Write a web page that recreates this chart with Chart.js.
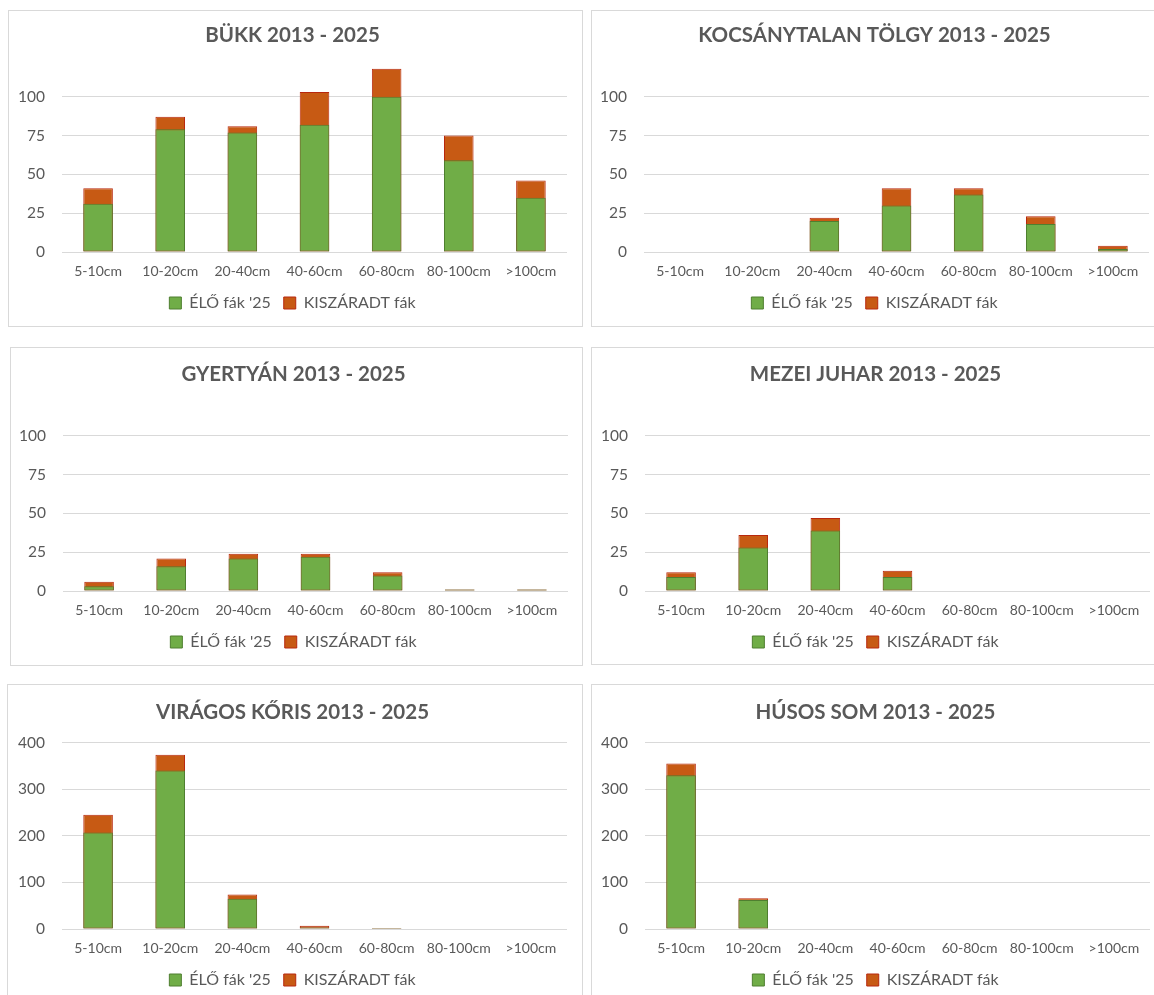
<!DOCTYPE html>
<html>
<head>
<meta charset="utf-8">
<script src="https://cdn.jsdelivr.net/npm/chart.js@4"></script>
<style>
    body { margin: 0; background: #fff; overflow: hidden; width: 1154px; height: 995px; position: relative; }
    .panel { position: absolute; box-sizing: border-box; border: 1px solid #d9d9d9; background: #fff; }
    canvas { position: absolute; }
</style>
</head>
<body>
<div class="panel" style="left:8px;top:10px;width:575px;height:317px"></div>
<div class="panel" style="left:591px;top:10px;width:575px;height:317px"></div>
<div class="panel" style="left:10px;top:347px;width:573px;height:319px"></div>
<div class="panel" style="left:591px;top:347px;width:575px;height:318px"></div>
<div class="panel" style="left:7px;top:684px;width:576px;height:330px"></div>
<div class="panel" style="left:591px;top:684px;width:575px;height:330px"></div>

<canvas id="bukk" width="574" height="316" style="left:8px;top:9px"></canvas>
<canvas id="tolgy" width="574" height="316" style="left:590px;top:9px"></canvas>
<canvas id="gyertyan" width="574" height="316" style="left:9px;top:348px"></canvas>
<canvas id="juhar" width="574" height="316" style="left:591px;top:348px"></canvas>
<canvas id="koris" width="574" height="316" style="left:8px;top:686px"></canvas>
<canvas id="som" width="574" height="316" style="left:591px;top:686px"></canvas>

<script>
const sizeClasses = ['5-10cm', '10-20cm', '20-40cm', '40-60cm', '60-80cm', '80-100cm', '>100cm'];
const seriesNames = ['ÉLŐ fák \'25', 'KISZÁRADT fák'];

const bukkLive = [31, 79, 77, 82, 100, 59, 35];
const bukkDead = [10, 8, 4, 21, 18, 16, 11];

const tolgyLive = [0, 0, 20, 30, 37, 18, 2];
const tolgyDead = [0, 0, 2, 11, 4, 5, 2];

const gyertyanLive = [3, 16, 21, 22, 10, 1, 1];
const gyertyanDead = [3, 5, 3, 2, 2, 0, 0];

const juharLive = [9, 28, 39, 9, 0, 0, 0];
const juharDead = [3, 8, 8, 4, 0, 0, 0];

const korisLive = [207, 340, 65, 3, 2, 0, 0];
const korisDead = [38, 34, 9, 4, 0, 0, 0];

const somLive = [330, 62, 0, 0, 0, 0, 0];
const somDead = [25, 4, 0, 0, 0, 0, 0];

const FONT = 'Lato, "Open Sans", sans-serif';
const TEXT = '#595959';

document.addEventListener('DOMContentLoaded', function() {
    makeChart('bukk', 'BÜKK 2013 - 2025', bukkLive, bukkDead, 120, 25, 100);
    makeChart('tolgy', 'KOCSÁNYTALAN TÖLGY 2013 - 2025', tolgyLive, tolgyDead, 120, 25, 100);
    makeChart('gyertyan', 'GYERTYÁN 2013 - 2025', gyertyanLive, gyertyanDead, 120, 25, 100);
    makeChart('juhar', 'MEZEI JUHAR 2013 - 2025', juharLive, juharDead, 120, 25, 100);
    makeChart('koris', 'VIRÁGOS KŐRIS 2013 - 2025', korisLive, korisDead, 400, 100, 400);
    makeChart('som', 'HÚSOS SOM 2013 - 2025', somLive, somDead, 400, 100, 400);
});

function makeChart(id, title, live, dead, yMax, step, lastTick) {
    const ctx = document.getElementById(id).getContext('2d');

    // dead trees sit on top of the living ones: draw the orange bar up to the
    // stack top behind the green one (avoids an anti-aliasing seam between them)
    const stackTop = live.map((v, i) => v + dead[i]);

    new Chart(ctx, {
        type: 'bar',
        data: {
            labels: sizeClasses,
            datasets: [
                {
                    label: seriesNames[0],
                    data: live,
                    order: 0,
                    backgroundColor: '#70AD47',
                    borderColor: '#4F7F30',
                    borderWidth: 1,
                    borderSkipped: false
                },
                {
                    label: seriesNames[1],
                    data: stackTop,
                    order: 1,
                    backgroundColor: '#C75A14',
                    borderColor: '#B8280E',
                    borderWidth: 1,
                    borderSkipped: false
                }
            ]
        },
        options: {
            responsive: false,
            animation: false,
            grouped: false,
            categoryPercentage: 0.41,
            barPercentage: 1,
            layout: {
                padding: { left: 10, right: 15, top: 0, bottom: 4 }
            },
            scales: {
                x: {
                    grid: { display: false, drawTicks: false },
                    border: { display: false },
                    ticks: {
                        padding: 11,
                        color: TEXT,
                        font: { family: FONT, size: 14 },
                        maxRotation: 0,
                        autoSkip: false
                    },
                    afterFit: function(scale) {
                        scale.height = 30;
                    }
                },
                y: {
                    min: 0,
                    max: yMax,
                    grid: { color: '#d9d9d9', drawTicks: false, lineWidth: 1 },
                    border: { display: false },
                    ticks: {
                        stepSize: step,
                        padding: 17,
                        color: TEXT,
                        font: { family: FONT, size: 15.5 }
                    },
                    afterBuildTicks: function(axis) {
                        axis.ticks = axis.ticks.filter(t => t.value <= lastTick);
                    },
                    afterFit: function(scale) {
                        scale.width = 44;
                    }
                }
            },
            plugins: {
                title: {
                    display: true,
                    text: title,
                    color: TEXT,
                    font: { family: FONT, size: 20.5, weight: 'bold' },
                    padding: { top: 14, bottom: 18 }
                },
                legend: {
                    position: 'bottom',
                    labels: {
                        color: TEXT,
                        font: { family: FONT, size: 16 },
                        boxWidth: 12,
                        boxHeight: 12,
                        padding: 13
                    }
                },
                tooltip: { enabled: false }
            }
        }
    });
}
</script>
</body>
</html>
